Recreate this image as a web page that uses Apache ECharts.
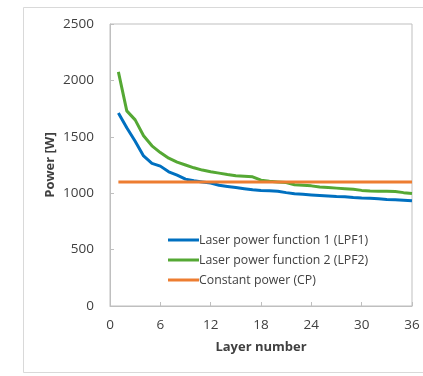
<!DOCTYPE html>
<html>
<head>
<meta charset="utf-8">
<script src="https://cdn.jsdelivr.net/npm/echarts@6/dist/echarts.min.js"></script>
<style>
  html, body { margin: 0; padding: 0; background: #ffffff; }
  #chart { width: 423px; height: 376px; }
</style>
</head>
<body>
<div id="chart"></div>
<script>
// Layer numbers 1..36
const layers = [1,2,3,4,5,6,7,8,9,10,11,12,13,14,15,16,17,18,19,20,21,22,23,24,25,26,27,28,29,30,31,32,33,34,35,36];

// Laser power per layer [W]
const lpf1 = [1710,1580,1460,1330,1265,1240,1190,1160,1125,1110,1100,1090,1070,1060,1050,1040,1030,1025,1022,1018,1005,995,990,985,980,975,970,968,962,958,955,950,945,942,938,933];
const lpf2 = [2075,1730,1650,1510,1420,1360,1310,1275,1250,1225,1205,1190,1178,1165,1155,1150,1145,1115,1105,1100,1095,1075,1070,1065,1055,1050,1045,1040,1035,1025,1020,1018,1018,1015,1005,998];
const cp = [1100,1100,1100,1100,1100,1100,1100,1100,1100,1100,1100,1100,1100,1100,1100,1100,1100,1100,1100,1100,1100,1100,1100,1100,1100,1100,1100,1100,1100,1100,1100,1100,1100,1100,1100,1100];

const seriesNames = ['Laser power function 1 (LPF1)', 'Laser power function 2 (LPF2)', 'Constant power (CP)'];
const seriesColors = ['#0070C0', '#55A834', '#ED7D31'];
const xTicks = { min: 0, max: 36, interval: 6 };
const yTicks = { min: 0, max: 2500, interval: 500 };

const font = '"Open Sans", sans-serif';
const textColor = '#404040';

const pair = (ys) => layers.map((x, i) => [x, ys[i]]);
const allValues = [lpf1, lpf2, cp];

const chart = echarts.init(document.getElementById('chart'), null, { renderer: 'canvas' });
chart.setOption({
  animation: false,
  backgroundColor: '#ffffff',
  graphic: [{
    type: 'rect',
    shape: { x: 23.5, y: 7.5, width: 420, height: 365 },
    style: { fill: 'none', stroke: '#d9d9d9', lineWidth: 1 },
    silent: true,
    z: -1
  }],
  grid: { left: 110, top: 24, right: 11, bottom: 70, show: true, borderColor: '#bfbfbf', borderWidth: 1 },
  legend: {
    orient: 'vertical',
    left: 163,
    top: 229,
    itemWidth: 31,
    itemHeight: 3,
    itemGap: 8,
    icon: 'rect',
    textStyle: { fontFamily: font, fontSize: 12.3, color: textColor, padding: [0, 0, 0, -5] },
    data: seriesNames
  },
  xAxis: {
    type: 'value',
    min: xTicks.min, max: xTicks.max, interval: xTicks.interval,
    name: 'Layer number',
    nameLocation: 'middle',
    nameGap: 35,
    nameTextStyle: { fontFamily: font, fontSize: 13, fontWeight: 'bold', color: textColor },
    axisLine: { show: true, lineStyle: { color: '#bfbfbf' } },
    axisTick: { show: true, inside: true, length: 4, lineStyle: { color: '#bfbfbf' } },
    axisLabel: { fontFamily: font, fontSize: 13.5, color: textColor, margin: 12 },
    splitLine: { show: false }
  },
  yAxis: {
    type: 'value',
    min: yTicks.min, max: yTicks.max, interval: yTicks.interval,
    name: 'Power [W]',
    nameLocation: 'middle',
    nameGap: 53,
    nameMoveOverlap: false,
    nameTextStyle: { fontFamily: font, fontSize: 13, fontWeight: 'bold', color: textColor },
    axisLine: { show: true, lineStyle: { color: '#bfbfbf' } },
    axisTick: { show: true, inside: true, length: 4, lineStyle: { color: '#bfbfbf' } },
    axisLabel: { fontFamily: font, fontSize: 13.5, color: textColor, margin: 16, formatter: (v) => String(v) },
    splitLine: { show: false }
  },
  series: seriesNames.map((name, k) => ({
    name,
    type: 'line',
    data: pair(allValues[k]),
    showSymbol: false,
    symbol: 'none',
    color: seriesColors[k],
    lineStyle: { width: 3, color: seriesColors[k] },
    z: k === 2 ? 3 : 2
  }))
});
</script>
</body>
</html>
